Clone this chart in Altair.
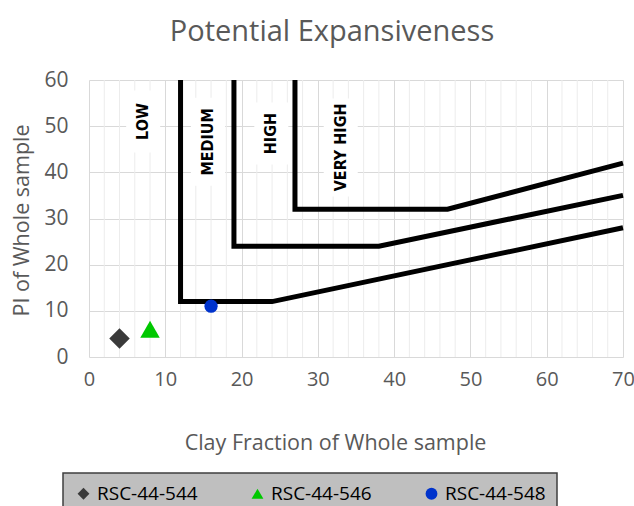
import altair as alt
import pandas as pd

# Boundary polylines between expansiveness zones (clay fraction, PI)
low_med_x = [12, 12, 24, 70]
low_med_y = [60, 12, 12, 28]
med_high_x = [19, 19, 38, 70]
med_high_y = [60, 24, 24, 35]
high_vhigh_x = [27, 27, 47, 70]
high_vhigh_y = [60, 32, 32, 42]

# Zone labels
zone_names = ["LOW", "MEDIUM", "HIGH", "VERY HIGH"]
zone_x = [7.1, 15.6, 23.9, 33.0]
zone_y = [51.0, 46.6, 48.4, 45.4]

# Samples
samples = ["RSC-44-544", "RSC-44-546", "RSC-44-548"]
sample_clay = [4, 8, 16]
sample_pi = [4, 6, 11]
sample_shapes = ["diamond", "triangle-up", "circle"]
sample_colors = ["#3a3a3a", "#00c800", "#0033cc"]
marker_sizes = [420, 380, 175]

minor_x = [v for v in range(0, 71, 2) if v % 10 != 0]

GRAY = "#595959"
FONT = "Open Sans"
FS = 21.5

rows = []
for name, xs, ys in [("a", low_med_x, low_med_y),
                     ("b", med_high_x, med_high_y),
                     ("c", high_vhigh_x, high_vhigh_y)]:
    for i, (x, y) in enumerate(zip(xs, ys)):
        rows.append({"boundary": name, "seq": i, "clay": x, "pi": y})
bounds = pd.DataFrame(rows)
zones = pd.DataFrame({"zone": zone_names, "clay": zone_x, "pi": zone_y})
pts = pd.DataFrame({"sample": samples, "clay": sample_clay, "pi": sample_pi})
minor = pd.DataFrame({"clay": minor_x})

x_scale = alt.Scale(domain=[0, 70], nice=False, zero=False)
y_scale = alt.Scale(domain=[0, 60], nice=False, zero=False)

x_axis = alt.Axis(
    title="Clay Fraction of Whole sample", values=list(range(0, 71, 10)),
    grid=True, gridColor="#d9d9d9", gridWidth=1, domain=False, ticks=False,
    labelFont=FONT, labelFontSize=20, labelColor=GRAY, labelPadding=12,
    labelFlush=False, labelOverlap=False,
    titleFont=FONT, titleFontSize=FS, titleColor=GRAY, titleFontWeight="normal",
    titleX=246, titleY=92, titleBaseline="alphabetic",
)
y_axis = alt.Axis(
    title="PI of Whole sample", values=list(range(0, 61, 10)),
    grid=True, gridColor="#d9d9d9", gridWidth=1, domain=False, ticks=False,
    labelFont=FONT, labelFontSize=21, labelColor=GRAY, labelPadding=21,
    labelFlush=False, labelOverlap=False,
    titleFont=FONT, titleFontSize=FS, titleColor=GRAY, titleFontWeight="normal",
    titleX=-61, titleY=140, titleAngle=270, titleBaseline="alphabetic",
    titleAlign="center",
)

X = alt.X("clay:Q", scale=x_scale, axis=x_axis)
Y = alt.Y("pi:Q", scale=y_scale, axis=y_axis)

minor_grid = alt.Chart(minor).mark_rule(color="#ececec", strokeWidth=1).encode(x=X)

lines = alt.Chart(bounds).mark_line(
    color="black", strokeWidth=5, strokeJoin="miter", strokeCap="butt"
).encode(x=X, y=Y, detail="boundary:N", order="seq:Q")

# white backing boxes behind the rotated zone labels
box_heights = {"LOW": 62, "MEDIUM": 88, "HIGH": 62, "VERY HIGH": 98}
boxes = [
    alt.Chart(zones[zones.zone == z]).mark_rect(
        color="white", width=34, height=h
    ).encode(x=X, y=Y)
    for z, h in box_heights.items()
]

labels = alt.Chart(zones).mark_text(
    angle=270, font="Liberation Sans Narrow, DejaVu Sans Condensed",
    fontWeight="bold", fontSize=16, color="black",
    align="center", baseline="middle",
).encode(x=X, y=Y, text="zone:N")

legend = alt.Legend(
    title=None, orient="none", direction="horizontal", columns=3,
    legendX=-26, legendY=393, padding=11, columnPadding=50,
    fillColor="#bfbfbf", strokeColor="#3f3f3f",
    labelFont=FONT, labelFontSize=19, labelColor="black", labelOffset=4,
    symbolSize=140, symbolStrokeWidth=0, symbolOpacity=1,
)

shape_enc = alt.Shape("sample:N", scale=alt.Scale(domain=samples, range=sample_shapes), legend=legend)
color_enc = alt.Color("sample:N", scale=alt.Scale(domain=samples, range=sample_colors), legend=legend)

point_layers = [
    alt.Chart(pts[pts["sample"] == s]).mark_point(
        filled=True, opacity=1, strokeWidth=0, size=sz
    ).encode(x=X, y=Y, shape=shape_enc, color=color_enc)
    for s, sz in zip(samples, marker_sizes)
]

chart = alt.layer(minor_grid, lines, *boxes, labels, *point_layers).properties(
    width=534, height=277,
    autosize=alt.AutoSizeParams(type="none"),
    padding={"left": 89, "top": 80, "right": 11, "bottom": 149},
    title=alt.Title(
        "Potential Expansiveness", font=FONT, fontSize=29, fontWeight="normal",
        color=GRAY, anchor="middle", dx=-24, dy=5, baseline="alphabetic", offset=4,
    ),
).configure_view(stroke=None).configure_legend(strokeWidth=1.5)

chart.save("out.html", embed_options={"renderer": "svg", "actions": False})
